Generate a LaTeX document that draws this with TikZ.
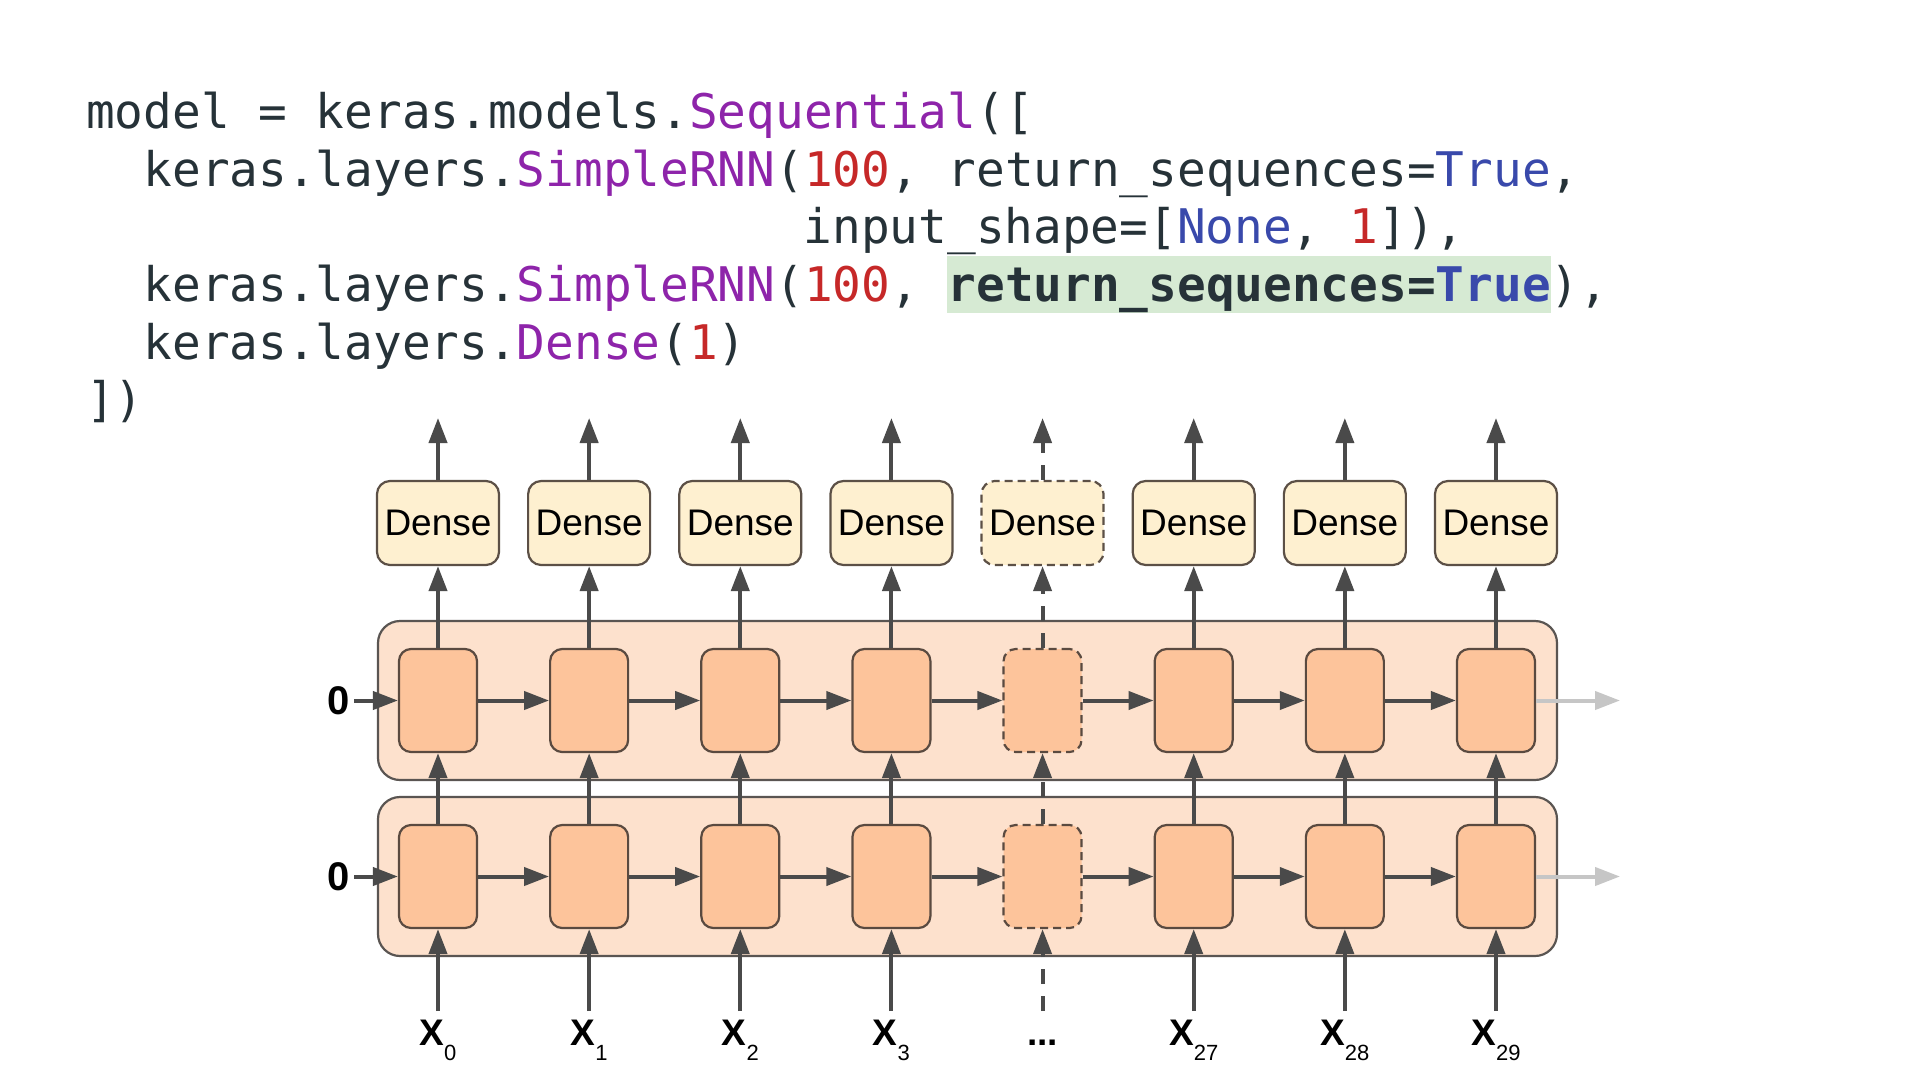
\documentclass[tikz,border=0pt]{standalone}
\usepackage{fontspec}
\setmainfont{Liberation Sans}
\newfontfamily\codefont{DejaVu Sans Mono}
\usetikzlibrary{arrows.meta}
\definecolor{ktext}{HTML}{263238}
\definecolor{kpurple}{HTML}{8E24AA}
\definecolor{kred}{HTML}{C62828}
\definecolor{kblue}{HTML}{3949AB}
\definecolor{khl}{HTML}{D6EAD3}
\definecolor{densefill}{HTML}{FEF0D0}
\definecolor{denseline}{HTML}{5C5046}
\definecolor{layerfill}{HTML}{FDE1CD}
\definecolor{layerline}{HTML}{5A5552}
\definecolor{cellfill}{HTML}{FDC49B}
\definecolor{cellline}{HTML}{5A4A40}
\definecolor{arrc}{HTML}{4A4A4A}
\definecolor{greyarr}{HTML}{C6C6C6}
\newcommand\xsub[1]{X{\fontsize{22}{22}\selectfont\mdseries\raisebox{-15pt}{#1}}}
\begin{document}
\begin{tikzpicture}[x=1pt,y=-1pt,
  code/.style={anchor=base west, inner sep=0pt, text=ktext,
    font=\codefont\fontsize{47.7}{57}\selectfont},
  densebox/.style={draw=denseline, fill=densefill, line width=2.2pt,
    rounded corners=13pt, minimum width=122pt, minimum height=84pt,
    inner sep=0pt, font=\fontsize{37}{40}\selectfont},
  layerbox/.style={draw=layerline, fill=layerfill, line width=2.2pt,
    rounded corners=22pt, minimum width=1179pt, minimum height=159pt, inner sep=0pt},
  cellbox/.style={draw=cellline, fill=cellfill, line width=2.2pt,
    rounded corners=12pt, minimum width=78pt, minimum height=103pt, inner sep=0pt},
  arr/.style={draw=arrc, line width=4pt, -{Triangle[length=25pt,width=18pt]}},
  greyarrow/.style={draw=greyarr, line width=4pt, -{Triangle[length=25pt,width=18pt]}},
  boxdsh/.style={dash pattern=on 8pt off 5pt},
  linedsh/.style={dash pattern=on 15pt off 12pt},
  xlab/.style={anchor=base, inner sep=0pt, font=\fontsize{37}{40}\selectfont\bfseries},
  zerolab/.style={inner ysep=0pt, inner xsep=4pt, font=\fontsize{40}{44}\selectfont\bfseries}
]
\useasboundingbox (0,0) rectangle (1920,1080);
\fill[white] (0,0) rectangle (1920,1080);

% ---- code ----
\fill[khl] (947,256) rectangle (1551,313);
\node[code] (c1) at (86,128) {model = keras.models.\textcolor{kpurple}{Sequential}([};
\node[code] (c2) at (143.4,186) {keras.layers.\textcolor{kpurple}{SimpleRNN}(\textcolor{kred}{100}, return\_sequences=\textcolor{kblue}{True},};
\node[code] (c3) at (803.5,243) {input\_shape=[\textcolor{kblue}{None}, \textcolor{kred}{1}]),};
\node[code] (c4) at (143.4,301) {keras.layers.\textcolor{kpurple}{SimpleRNN}(\textcolor{kred}{100}, \textbf{return\_sequences=\textcolor{kblue}{True}}),};
\node[code] (c5) at (143.4,359) {keras.layers.\textcolor{kpurple}{Dense}(\textcolor{kred}{1})};
\node[code] (c6) at (86,416) {])};

% ---- layers ----
\node[layerbox] (L1) at (967.5,700.5) {};
\node[layerbox] (L2) at (967.5,876.5) {};

\node[zerolab] (z1) at (339,700.5) {0};
\node[zerolab] (z2) at (339,876.5) {0};

\foreach \i/\lab in {0/{\xsub{0}}, 1/{\xsub{1}}, 2/{\xsub{2}}, 3/{\xsub{3}},
                     4/{...}, 5/{\xsub{27}}, 6/{\xsub{28}}, 7/{\xsub{29}}} {
  \pgfmathsetmacro\cx{438+151.14*\i}
  \ifnum\i=4
    \tikzset{dynbox/.style={boxdsh}, dynline/.style={linedsh}}
  \else
    \tikzset{dynbox/.style={}, dynline/.style={}}
  \fi
  \node[densebox,dynbox] (d\i) at (\cx,523) {Dense};
  \node[cellbox,dynbox] (t\i) at (\cx,700.5) {};
  \node[cellbox,dynbox] (b\i) at (\cx,876.5) {};
  \coordinate (o\i) at (\cx,418);
  \coordinate (in\i) at (\cx,1011);
  \node[xlab] (x\i) at (\cx,1045) {\lab};
  \draw[arr,dynline] (in\i) -- (b\i.south);
  \draw[arr,dynline] (b\i.north) -- (t\i.south);
  \draw[arr,dynline] (t\i.north) -- (d\i.south);
  \draw[arr,dynline] (d\i.north) -- (o\i);
}

\foreach \i [evaluate=\i as \j using int(\i+1)] in {0,...,6} {
  \draw[arr] (t\i.east) -- (t\j.west);
  \draw[arr] (b\i.east) -- (b\j.west);
}

\draw[arr] (z1.east) -- (t0.west);
\draw[arr] (z2.east) -- (b0.west);

\coordinate (g1) at (1620,700.5);
\coordinate (g2) at (1620,876.5);
\draw[greyarrow] (t7.east) -- (g1);
\draw[greyarrow] (b7.east) -- (g2);
\end{tikzpicture}
\end{document}
